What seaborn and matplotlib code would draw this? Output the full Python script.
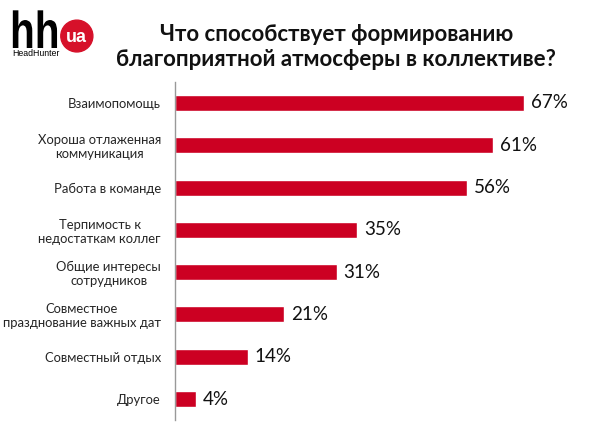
import seaborn as sns
import pandas as pd
import matplotlib.pyplot as plt
from matplotlib.patches import Ellipse, PathPatch
from matplotlib.textpath import TextPath
from matplotlib.font_manager import FontProperties
from matplotlib.transforms import Affine2D, IdentityTransform

# Data
categories = ['Взаимопомощь', 'Хороша отлаженная\nкоммуникация', 'Работа в команде',
              'Терпимость к\nнедостаткам коллег', 'Общие интересы\nсотрудников',
              'Совместное\nпразднование важных дат', 'Совместный отдых', 'Другое']
values = [67, 61, 56, 35, 31, 21, 14, 4]
title = 'Что способствует формированию\nблагоприятной атмосферы в коллективе?'

df = pd.DataFrame({'category': categories, 'value': values})

sns.set_style('white')
plt.rcParams['font.family'] = ['Lato', 'DejaVu Sans']

fig = plt.figure(figsize=(6.05, 4.24), dpi=100)
ax = fig.add_axes([0.289, 0.009, 0.69, 0.798])

sns.barplot(data=df, x='value', y='category', color='#cc0022', width=0.38,
            saturation=1, ax=ax)

ax.set_xlim(0, 80)
ax.set_xlabel('')
ax.set_ylabel('')
ax.set_xticks([])
ax.tick_params(axis='y', length=0, pad=10, labelsize=9.4)
for lab in ax.get_yticklabels():
    lab.set_multialignment('center')
for side in ['top', 'right', 'bottom']:
    ax.spines[side].set_visible(False)
ax.spines['left'].set_color('#999999')
ax.spines['left'].set_linewidth(1)

# value labels
for i, v in enumerate(values):
    ax.text(v + 1.3, i, f'{v}%', va='center', ha='left', fontsize=13.5, color='#111111')

# title
fig.text(0.556, 0.889, title, ha='center', va='center', fontsize=16,
         fontweight='bold', color='#111111', linespacing=1.25)

# logo: condensed "hh"
hh_path = TextPath((0, 0), 'hh', size=1,
                   prop=FontProperties(family='Liberation Sans', weight='bold'))
hh_tr = Affine2D().scale(52 * 0.78, 52).translate(10, 424 - 48) + IdentityTransform()
fig.patches.append(PathPatch(hh_path, facecolor='black', edgecolor='none',
                             transform=hh_tr, figure=fig))
fig.text(0.020, 0.874, 'HeadHunter', ha='left', va='center', fontsize=6.3,
         color='black', family='Liberation Sans')
circ = Ellipse((0.127, 0.915), 0.053, 0.075, transform=fig.transFigure,
               color='#d6112a', zorder=3)
fig.patches.append(circ)
fig.text(0.127, 0.912, 'ua', ha='center', va='center', fontsize=13, fontweight='bold',
         color='white', family='Liberation Sans', zorder=4)

fig.savefig('out.png', dpi=100)
